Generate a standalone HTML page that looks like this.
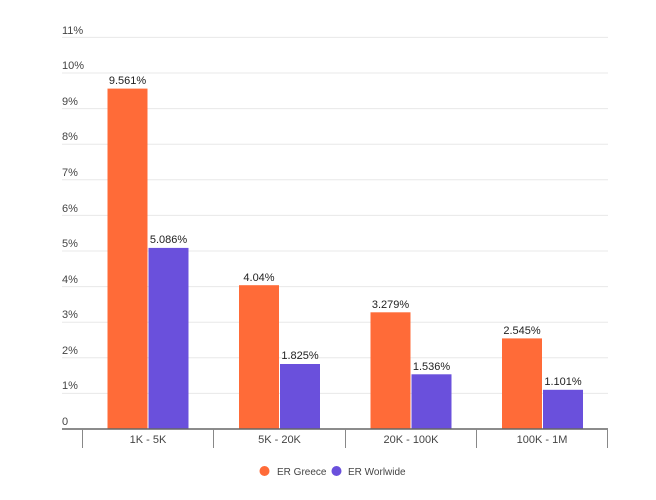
<!DOCTYPE html>
<html><head><style>body{margin:0;background:#fff}svg{display:block}text{font-family:"Liberation Sans",sans-serif;}</style></head><body>
<svg width="656" height="500" xmlns="http://www.w3.org/2000/svg">
<g stroke="#e8e8e8" stroke-width="1">
<line x1="62" x2="608" y1="393.4" y2="393.4"/><line x1="62" x2="608" y1="357.8" y2="357.8"/>
<line x1="62" x2="608" y1="322.2" y2="322.2"/><line x1="62" x2="608" y1="286.6" y2="286.6"/>
<line x1="62" x2="608" y1="251" y2="251"/><line x1="62" x2="608" y1="215.4" y2="215.4"/>
<line x1="62" x2="608" y1="179.8" y2="179.8"/><line x1="62" x2="608" y1="144.2" y2="144.2"/>
<line x1="62" x2="608" y1="108.6" y2="108.6"/><line x1="62" x2="608" y1="73" y2="73"/>
<line x1="62" x2="608" y1="37.4" y2="37.4"/>
</g>
<g font-size="11" fill="#444">
<text x="62" y="425">0</text><text x="62" y="389">1%</text><text x="62" y="354">2%</text>
<text x="62" y="318">3%</text><text x="62" y="283">4%</text><text x="62" y="247">5%</text>
<text x="62" y="212">6%</text><text x="62" y="176">7%</text><text x="62" y="140">8%</text>
<text x="62" y="105">9%</text><text x="62" y="69">10%</text><text x="62" y="34">11%</text>
</g>
<g fill="#ff6b38">
<rect x="107.5" y="88.6" width="40" height="340.4"/>
<rect x="239" y="285.2" width="40" height="143.8"/>
<rect x="370.5" y="312.3" width="40" height="116.7"/>
<rect x="502" y="338.4" width="40" height="90.6"/>
</g>
<g fill="#6a50dc">
<rect x="148.5" y="247.9" width="40" height="181.1"/>
<rect x="280" y="364" width="40" height="65"/>
<rect x="411.5" y="374.3" width="40" height="54.7"/>
<rect x="543" y="389.8" width="40" height="39.2"/>
</g>
<g font-size="11" fill="#222" text-anchor="middle">
<text x="127.5" y="84">9.561%</text><text x="168.5" y="243">5.086%</text>
<text x="259" y="281">4.04%</text><text x="300" y="359">1.825%</text>
<text x="390.5" y="308">3.279%</text><text x="431.5" y="370">1.536%</text>
<text x="522" y="334">2.545%</text><text x="563" y="385">1.101%</text>
</g>
<line x1="62" x2="608" y1="429" y2="429" stroke="#666" stroke-width="1.5"/>
<g stroke="#888" stroke-width="1">
<line x1="82.5" x2="82.5" y1="429" y2="448"/><line x1="213.5" x2="213.5" y1="429" y2="448"/>
<line x1="345.5" x2="345.5" y1="429" y2="448"/><line x1="476.5" x2="476.5" y1="429" y2="448"/>
<line x1="607.5" x2="607.5" y1="429" y2="448"/>
</g>
<g font-size="11" fill="#444" text-anchor="middle">
<text x="148" y="443">1K - 5K</text><text x="279.5" y="443">5K - 20K</text>
<text x="411" y="443">20K - 100K</text><text x="542" y="443">100K - 1M</text>
</g>
<circle cx="264.5" cy="471" r="5" fill="#ff6b38"/>
<text x="277" y="475" font-size="10" fill="#444">ER Greece</text>
<circle cx="336.5" cy="471" r="5" fill="#6a50dc"/>
<text x="348" y="475" font-size="10" fill="#444">ER Worlwide</text>
</svg>
</body></html>
